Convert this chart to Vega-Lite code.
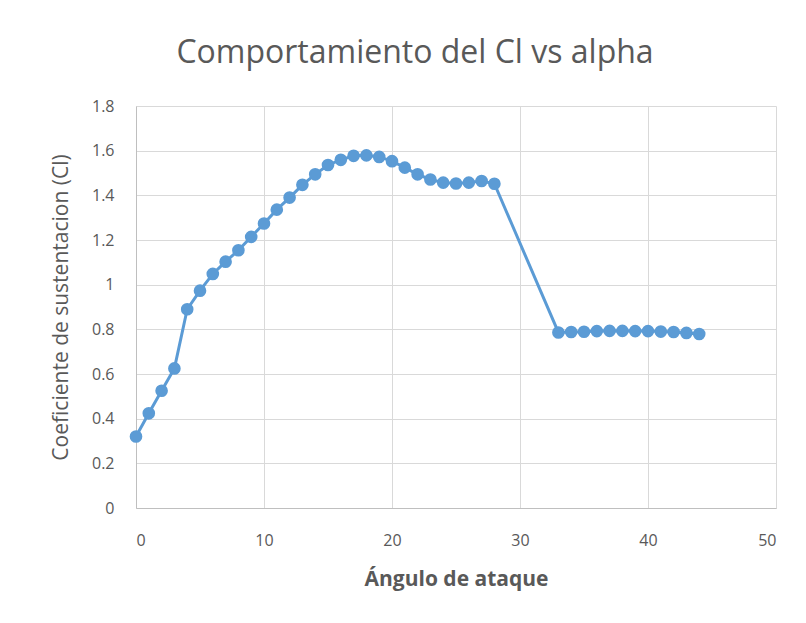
{
  "$schema": "https://vega.github.io/schema/vega-lite/v6.json",
  "width": 640,
  "height": 402,
  "autosize": {"type": "none"},
  "padding": {"left": 136, "top": 106, "right": 30, "bottom": 115},
  "background": "white",
  "title": {
    "text": "Comportamiento del Cl vs alpha",
    "font": "Open Sans",
    "fontWeight": 400,
    "fontSize": 32,
    "color": "#595959",
    "anchor": "middle",
    "dx": -41,
    "offset": 28
  },
  "data": {
    "values": [
      {"a": 0, "cl": 0.32},
      {"a": 1, "cl": 0.424},
      {"a": 2, "cl": 0.525},
      {"a": 3, "cl": 0.625},
      {"a": 4, "cl": 0.89},
      {"a": 5, "cl": 0.973},
      {"a": 6, "cl": 1.048},
      {"a": 7, "cl": 1.103},
      {"a": 8, "cl": 1.154},
      {"a": 9, "cl": 1.214},
      {"a": 10, "cl": 1.274},
      {"a": 11, "cl": 1.336},
      {"a": 12, "cl": 1.39},
      {"a": 13, "cl": 1.447},
      {"a": 14, "cl": 1.494},
      {"a": 15, "cl": 1.536},
      {"a": 16, "cl": 1.559},
      {"a": 17, "cl": 1.577},
      {"a": 18, "cl": 1.579},
      {"a": 19, "cl": 1.572},
      {"a": 20, "cl": 1.553},
      {"a": 21, "cl": 1.524},
      {"a": 22, "cl": 1.494},
      {"a": 23, "cl": 1.471},
      {"a": 24, "cl": 1.457},
      {"a": 25, "cl": 1.453},
      {"a": 26, "cl": 1.457},
      {"a": 27, "cl": 1.464},
      {"a": 28, "cl": 1.452},
      {"a": 33, "cl": 0.786},
      {"a": 34, "cl": 0.788},
      {"a": 35, "cl": 0.789},
      {"a": 36, "cl": 0.792},
      {"a": 37, "cl": 0.793},
      {"a": 38, "cl": 0.793},
      {"a": 39, "cl": 0.792},
      {"a": 40, "cl": 0.792},
      {"a": 41, "cl": 0.79},
      {"a": 42, "cl": 0.788},
      {"a": 43, "cl": 0.784},
      {"a": 44, "cl": 0.779}
    ]
  },
  "encoding": {
    "x": {
      "field": "a",
      "type": "quantitative",
      "scale": {"domain": [0, 50], "nice": false},
      "axis": {
        "values": [0, 10, 20, 30, 40, 50],
        "title": "Ángulo de ataque",
        "titleFont": "Open Sans",
        "titleFontSize": 21,
        "titleFontWeight": "bold",
        "titleColor": "#595959",
        "titlePadding": 20,
        "labelFont": "Open Sans",
        "labelFontSize": 16,
        "labelColor": "#595959",
        "labelPadding": 24,
        "ticks": false,
        "domainColor": "#BFBFBF",
        "gridColor": "#D9D9D9",
        "grid": true
      }
    },
    "y": {
      "field": "cl",
      "type": "quantitative",
      "scale": {"domain": [0, 1.8], "nice": false},
      "axis": {
        "values": [0, 0.2, 0.4, 0.6, 0.8, 1, 1.2, 1.4, 1.6, 1.8],
        "format": "~g",
        "title": "Coeficiente de sustentacion (Cl)",
        "titleFont": "Open Sans",
        "titleFontSize": 21,
        "titleFontWeight": "normal",
        "titleColor": "#595959",
        "titlePadding": 20,
        "labelFont": "Open Sans",
        "labelFontSize": 16,
        "labelColor": "#595959",
        "labelPadding": 22,
        "ticks": false,
        "domainColor": "#BFBFBF",
        "gridColor": "#D9D9D9",
        "grid": true
      }
    }
  },
  "layer": [
    {"mark": {"type": "line", "color": "#5B9BD5", "strokeWidth": 3}},
    {"mark": {"type": "point", "filled": true, "shape": "circle", "size": 160, "color": "#5B9BD5", "opacity": 1}}
  ],
  "config": {"view": {"stroke": null}}
}
